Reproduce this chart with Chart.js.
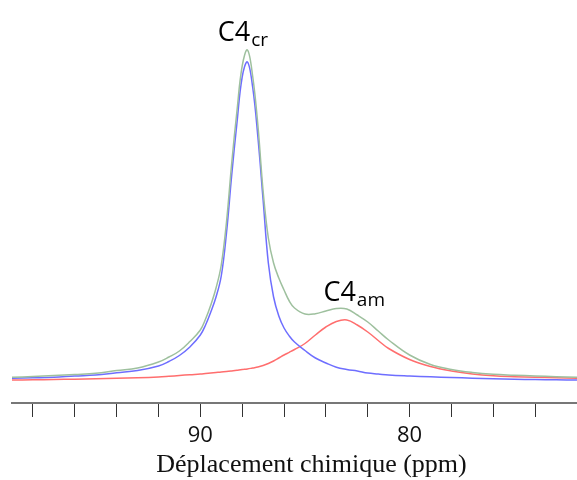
<!DOCTYPE html>
<html>
<head>
<meta charset="utf-8">
<script src="https://cdn.jsdelivr.net/npm/chart.js@4.4.1/dist/chart.umd.min.js"></script>
<style>
    html, body { margin: 0; padding: 0; background: #fff; }
    canvas { display: block; }
</style>
</head>
<body>
<canvas id="spectrum" width="577" height="480"></canvas>
<script>
// chemical shift (ppm) sampled along the spectrum
const shiftPpm = [99, 98, 97, 96, 95, 94, 93, 92, 91.5, 91, 90.5, 90, 89.75, 89.5, 89.25, 89, 88.75, 88.5, 88.25, 88,
    87.75, 87.5, 87.25, 87, 86.75, 86.5, 86.25, 86, 85.75, 85.5, 85, 84.5, 84, 83.5, 83, 82.5, 82, 81.5, 81,
    80, 79, 78, 77, 76, 75, 74, 73, 72];

// C4 crystalline component (blue)
const crystalline = [24.7, 25.2, 25.8, 27, 28, 30.3, 32.5, 37, 41.5, 47.5, 56, 68, 78, 91, 106, 127, 170, 228, 280, 326,
    341, 316, 266, 203, 140, 106, 87, 75, 67, 61, 52.5, 45, 40, 35.7, 33.5, 32, 30, 29, 28,
    27, 26.2, 25.5, 24.8, 24.2, 23.7, 23.4, 23.2, 23];

// C4 amorphous component (red)
const amorphous = [23, 23.2, 23.5, 23.8, 24.2, 24.7, 25.2, 26, 26.7, 27.5, 28.3, 29, 29.5, 30, 30.5, 31, 31.4, 32, 32.7, 33.4,
    34, 35, 36, 37.5, 39.5, 42, 45, 48, 50.7, 53.5, 59.5, 68, 76, 81.5, 83, 78, 71, 62.5, 54.5,
    43.5, 36.5, 32, 29, 27.2, 26.3, 25.7, 25.2, 24.7];

// total spectrum (green)
const total = [25.7, 26.5, 27.5, 28.5, 29.7, 32.5, 35, 41, 46, 52, 61.5, 73, 84, 98, 115, 138, 181, 240, 292, 337,
    353, 327, 278, 212, 165, 140, 125, 113, 102, 95, 89, 89.3, 92, 94.5, 94, 88, 81, 72, 63,
    48, 38.5, 33.5, 30.5, 28.7, 27.8, 27, 26.3, 25.7];

const tickValues = [98, 96, 94, 92, 90, 88, 86, 84, 82, 80, 78, 76, 74];
const labeledTicks = [90, 80];
const axisTitle = 'Déplacement chimique (ppm)';

const peakLabels = [
    { main: 'C4', sub: 'cr', ppm: 89.17, level: 362 },
    { main: 'C4', sub: 'am', ppm: 84.12, level: 102 }
];

function toPoints(values) {
    return shiftPpm.map((x, i) => ({ x: x, y: values[i] }));
}

function lineSet(label, values, color) {
    return {
        label: label,
        data: toPoints(values),
        borderColor: color,
        borderWidth: 1.5,
        pointRadius: 0,
        fill: false,
        tension: 0.4
    };
}

const textPlugin = {
    id: 'spectrumText',
    afterDraw(chart) {
        const ctx = chart.ctx;
        const xs = chart.scales.x;
        const ys = chart.scales.y;
        const area = chart.chartArea;
        ctx.save();
        ctx.fillStyle = '#000';
        ctx.textBaseline = 'alphabetic';
        ctx.textAlign = 'left';
        peakLabels.forEach(l => {
            const x = xs.getPixelForValue(l.ppm);
            const y = ys.getPixelForValue(l.level);
            ctx.font = '27px "Open Sans"';
            ctx.fillText(l.main, x, y);
            const w = ctx.measureText(l.main).width;
            ctx.font = '19px "Open Sans"';
            ctx.fillText(l.sub, x + w + 1, y + 5);
        });

        // axis title, a little right of the plot centre like the original
        ctx.font = '26px "Liberation Serif"';
        ctx.textAlign = 'center';
        ctx.textBaseline = 'middle';
        ctx.fillStyle = '#111';
        ctx.fillText(axisTitle, (area.left + area.right) / 2 + 17, 465);
        ctx.restore();
    }
};

new Chart(document.getElementById('spectrum'), {
    type: 'line',
    data: {
        datasets: [
            lineSet('Total', total, 'rgb(158, 192, 158)'),
            lineSet('C4 cr', crystalline, 'rgb(110, 110, 255)'),
            lineSet('C4 am', amorphous, 'rgb(255, 110, 110)')
        ]
    },
    options: {
        responsive: false,
        animation: false,
        devicePixelRatio: 1,
        layout: { padding: { left: 12, top: 3, right: 0, bottom: 0 } },
        plugins: { legend: { display: false }, tooltip: { enabled: false } },
        scales: {
            x: {
                type: 'linear',
                reverse: true,
                min: 72,
                max: 99,
                afterBuildTicks: scale => {
                    scale.ticks = tickValues.map(v => ({ value: v }));
                },
                afterFit: scale => { scale.height = 77; },
                grid: { drawOnChartArea: false, drawTicks: true, tickLength: 14, color: '#333', lineWidth: 1 },
                border: { display: true, color: '#777', width: 2 },
                ticks: {
                    autoSkip: false,
                    maxRotation: 0,
                    padding: 6,
                    color: '#111',
                    font: { family: '"Open Sans"', size: 22 },
                    callback: v => labeledTicks.includes(v) ? String(v) : ''
                },
                title: { display: false }
            },
            y: { display: false, min: 0, max: 400 }
        }
    },
    plugins: [textPlugin]
});
</script>
</body>
</html>
